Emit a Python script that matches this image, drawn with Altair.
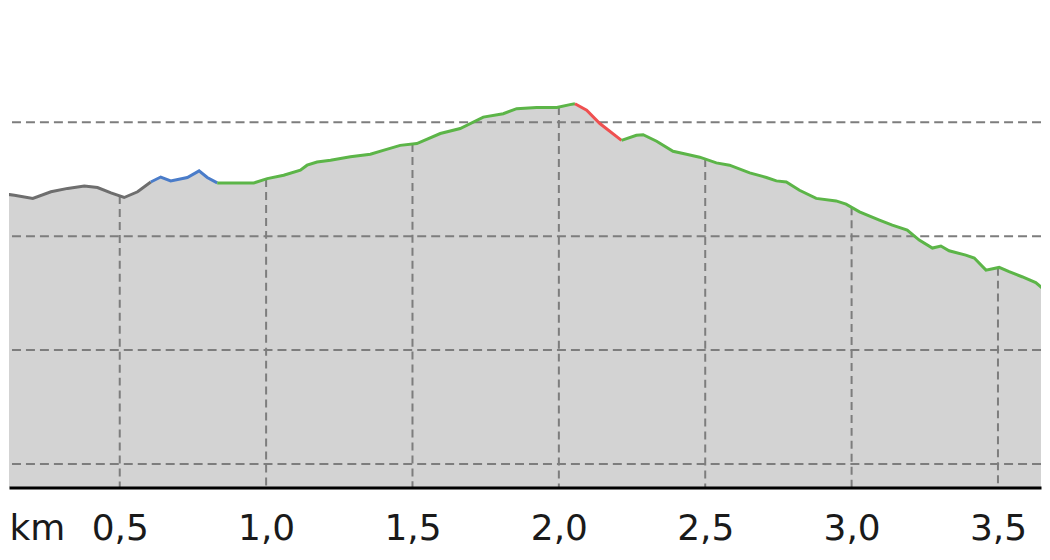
import altair as alt
import pandas as pd
import numpy as np

# Elevation profile (km, metres)
gray_km = [0.094, 0.140, 0.203, 0.265, 0.322, 0.379, 0.424, 0.470, 0.515, 0.561, 0.606]
gray_ele = [418.8, 418.0, 416.6, 419.5, 421.0, 422.0, 421.4, 419.0, 417.0, 419.5, 423.8]

blue_km = [0.606, 0.640, 0.674, 0.731, 0.771, 0.799, 0.833]
blue_ele = [423.8, 426.0, 424.3, 425.8, 428.7, 425.8, 423.4]

green1_km = [0.833, 0.958, 1.004, 1.060, 1.117, 1.140, 1.174, 1.220, 1.288, 1.356,
             1.400, 1.458, 1.515, 1.595, 1.663, 1.742, 1.810, 1.856, 1.924, 1.993,
             2.038, 2.055]
green1_ele = [423.4, 423.4, 425.3, 426.8, 429.0, 431.2, 432.6, 433.4, 434.9, 436.0,
              437.7, 439.9, 440.7, 445.1, 447.3, 452.3, 453.8, 456.0, 456.5, 456.5,
              457.8, 458.2]

red_km = [2.055, 2.095, 2.140, 2.214]
red_ele = [458.2, 455.3, 449.5, 442.1]

green2_km = [2.214, 2.265, 2.288, 2.334, 2.390, 2.436, 2.481, 2.538, 2.583, 2.652,
             2.709, 2.743, 2.777, 2.822, 2.879, 2.947, 2.981, 3.027, 3.095, 3.139,
             3.190, 3.231, 3.276, 3.305, 3.333, 3.390, 3.419, 3.459, 3.504, 3.538,
             3.582, 3.629, 3.674, 3.700]
green2_ele = [442.1, 444.3, 444.6, 441.7, 437.3, 436.0, 434.7, 432.2, 431.2, 427.8,
              425.8, 424.3, 423.8, 420.2, 416.6, 415.5, 414.1, 410.7, 407.1, 404.9,
              402.7, 398.3, 394.8, 395.7, 393.6, 391.7, 390.4, 385.1, 386.3, 384.4,
              382.2, 379.6, 374.9, 372.0]

tick_values = [0.5, 1.0, 1.5, 2.0, 2.5, 3.0, 3.5]
grid_levels = [300, 350, 400, 450]

segment_names = ["gray", "blue", "green", "red"]
segment_colors = ["#6e6e6e", "#4a7cc9", "#5cb548", "#ef5050"]

X_DOMAIN = [0.1217, 3.647]
Y_MIN, Y_MAX = 289.6, 500.0

segments = [
    ("gray", gray_km, gray_ele),
    ("blue", blue_km, blue_ele),
    ("green", green1_km, green1_ele),
    ("red", red_km, red_ele),
    ("green", green2_km, green2_ele),
]

rows = []
for part, (cls, kms, eles) in enumerate(segments):
    for k, e in zip(kms, eles):
        rows.append({"km": k, "ele": e, "cls": cls, "part": part})
line_df = pd.DataFrame(rows)

area_df = (line_df[["km", "ele"]].drop_duplicates(subset="km")
           .sort_values("km").reset_index(drop=True))

tick_df = pd.DataFrame({
    "km": tick_values,
    "top": np.interp(tick_values, area_df["km"], area_df["ele"]),
})
grid_df = pd.DataFrame({"ele": grid_levels})

xs = alt.Scale(domain=X_DOMAIN, nice=False, zero=False)
ys = alt.Scale(domain=[Y_MIN, Y_MAX], nice=False, zero=False)

x_axis = alt.Axis(
    values=tick_values,
    labelExpr="replace(format(datum.value, '.1f'), '.', ',')",
    grid=False, ticks=False,
    domainColor="#000000", domainWidth=3,
    labelFont="DejaVu Sans", labelFontSize=36, labelColor="#1a1a1a",
    labelPadding=52, labelBaseline="alphabetic", labelFlush=False,
    title="km", titleFont="DejaVu Sans", titleFontSize=36,
    titleFontWeight="normal", titleColor="#1a1a1a",
    titleAlign="left", titleBaseline="alphabetic", titleX=0, titleY=52,
    zindex=1,
)

area = alt.Chart(area_df).mark_area(color="#d3d3d3", clip=True).encode(
    x=alt.X("km:Q", scale=xs, axis=x_axis),
    y=alt.Y("ele:Q", scale=ys, axis=None),
    y2=alt.datum(Y_MIN),
)

hgrid = alt.Chart(grid_df).mark_rule(
    color="#7d7d7d", strokeWidth=2, strokeDash=[9, 5]
).encode(
    y=alt.Y("ele:Q", scale=ys, axis=None),
)

vgrid = alt.Chart(tick_df).mark_rule(
    color="#7d7d7d", strokeWidth=2, strokeDash=[8, 5]
).encode(
    x=alt.X("km:Q", scale=xs, axis=x_axis),
    y=alt.Y("top:Q", scale=ys, axis=None),
    y2=alt.datum(Y_MIN),
)

line = alt.Chart(line_df).mark_line(strokeWidth=3, clip=True).encode(
    x=alt.X("km:Q", scale=xs, axis=x_axis),
    y=alt.Y("ele:Q", scale=ys, axis=None),
    color=alt.Color("cls:N", scale=alt.Scale(domain=segment_names, range=segment_colors),
                    legend=None),
    detail="part:N",
    order="km:Q",
)

chart = alt.layer(area, hgrid, vgrid, line).properties(
    width=1034, height=480, padding=0, background="#ffffff"
).configure_view(strokeWidth=0)

chart.save("out.html", embed_options={"renderer": "svg", "actions": False})
